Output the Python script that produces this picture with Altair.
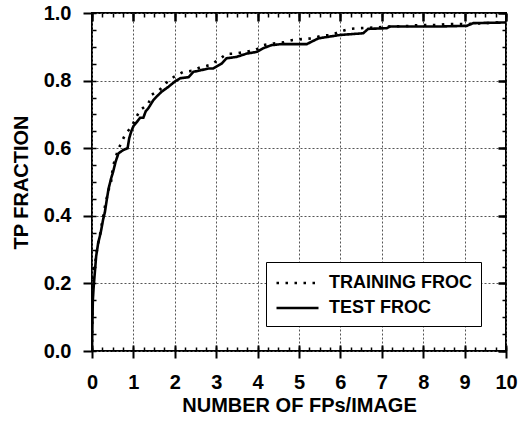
import altair as alt
import pandas as pd

# ---- data ----
train_x = [0, 0.01, 0.03, 0.07, 0.10, 0.13, 0.18, 0.22, 0.26, 0.30, 0.35, 0.40, 0.46, 0.49,
           0.53, 0.60, 0.69, 0.80, 0.96, 1.16, 1.36, 1.43, 1.63, 1.80, 1.99, 2.21, 2.43,
           2.61, 2.85, 3.05, 3.25, 3.48, 3.70, 3.94, 4.15, 4.38, 4.62, 4.85, 5.09, 5.32,
           5.56, 5.79, 5.99, 6.22, 6.45, 6.67, 7.20, 7.64, 7.86, 8.30, 8.57, 9.04, 9.50, 10.0]
train_y = [0, 0.12, 0.235, 0.254, 0.28, 0.31, 0.334, 0.364, 0.39, 0.42, 0.449, 0.476, 0.50, 0.53,
           0.556, 0.584, 0.612, 0.640, 0.665, 0.713, 0.730, 0.757, 0.772, 0.794, 0.812, 0.826, 0.829,
           0.839, 0.846, 0.861, 0.879, 0.880, 0.885, 0.890, 0.905, 0.910, 0.913, 0.920, 0.923, 0.925,
           0.933, 0.935, 0.945, 0.953, 0.955, 0.956, 0.960, 0.962, 0.964, 0.964, 0.967, 0.967, 0.970, 0.973]

test_x = [0, 0.01, 0.02, 0.04, 0.06, 0.10, 0.15, 0.21, 0.27, 0.31, 0.36, 0.40, 0.46, 0.51, 0.57,
          0.64, 0.76, 0.86, 0.90, 0.95, 1.00, 1.10, 1.16, 1.24, 1.30, 1.36, 1.48, 1.58, 1.68, 1.85,
          2.00, 2.13, 2.33, 2.45, 2.61, 2.81, 2.93, 3.13, 3.25, 3.49, 3.74, 3.98, 4.14, 4.34, 4.58,
          5.19, 5.27, 5.47, 5.99, 6.55, 6.67, 7.12, 7.20, 8.40, 9.05, 9.21, 10.0]
test_y = [0, 0.08, 0.15, 0.19, 0.22, 0.28, 0.32, 0.35, 0.39, 0.41, 0.45, 0.48, 0.51, 0.53, 0.56,
          0.585, 0.595, 0.60, 0.63, 0.65, 0.665, 0.68, 0.69, 0.69, 0.71, 0.718, 0.742, 0.755, 0.767, 0.782,
          0.797, 0.807, 0.81, 0.826, 0.83, 0.836, 0.836, 0.85, 0.866, 0.87, 0.88, 0.885, 0.896, 0.905, 0.908,
          0.908, 0.913, 0.925, 0.935, 0.94, 0.953, 0.955, 0.96, 0.96, 0.962, 0.97, 0.972]

series_names = ["TRAINING FROC", "TEST FROC"]
x_major = list(range(0, 11))
x_minor = [i * 0.25 for i in range(41)]
y_major = [0.0, 0.2, 0.4, 0.6, 0.8, 1.0]
y_minor = [round(i * 0.05, 2) for i in range(21)]

rows = []
for i, (a, b) in enumerate(zip(train_x, train_y)):
    rows.append({"series": series_names[0], "x": a, "y": b, "o": i})
for i, (a, b) in enumerate(zip(test_x, test_y)):
    rows.append({"series": series_names[1], "x": a, "y": b, "o": i})
df = pd.DataFrame(rows)

FONT = "Liberation Sans"
xs = alt.Scale(domain=[0, 10], nice=False, zero=False)
ys = alt.Scale(domain=[0, 1], nice=False, zero=False)


def inner_axis(values, orient, size, width):
    return alt.Axis(values=values, orient=orient, offset=-size, tickSize=size, tickWidth=width,
                    tickColor="black", labels=False, domain=False, grid=False, title=None)


x_main = alt.Axis(values=x_major, orient="bottom", title="NUMBER OF FPs/IMAGE",
                  grid=True, gridDash=[2, 2], gridColor="#555555", gridWidth=1,
                  tickSize=7, tickWidth=2, tickColor="black", domain=False,
                  labelFont=FONT, labelFontSize=20, labelFontWeight="bold", labelColor="black",
                  labelPadding=14, labelFlush=False, labelOverlap=False,
                  titleFont=FONT, titleFontSize=20, titleFontWeight="bold", titleColor="black",
                  titlePadding=3)
y_main = alt.Axis(values=y_major, orient="left", format=".1f", title="TP FRACTION",
                  grid=True, gridDash=[2, 2], gridColor="#555555", gridWidth=1,
                  tickSize=9, tickWidth=2, tickColor="black", domain=False,
                  labelFont=FONT, labelFontSize=20, labelFontWeight="bold", labelColor="black",
                  labelPadding=12, labelFlush=False, labelOverlap=False,
                  titleFont=FONT, titleFontSize=20, titleFontWeight="bold", titleColor="black",
                  titlePadding=12)

lines = alt.Chart(df).mark_line(color="black", strokeWidth=2.6, clip=True).encode(
    x=alt.X("x:Q", scale=xs, axis=x_main),
    y=alt.Y("y:Q", scale=ys, axis=y_main),
    order="o:Q",
    strokeDash=alt.StrokeDash(
        "series:N",
        scale=alt.Scale(domain=series_names, range=[[2.5, 6.5], [1, 0]]),
        legend=alt.Legend(
            title=None, orient="none", legendX=174, legendY=249,
            symbolType="M-1,0H3", symbolSize=441, symbolStrokeWidth=2.5,
            symbolStrokeColor="black", labelOffset=30,
            labelFont=FONT, labelFontSize=18, labelFontWeight="bold", labelColor="black",
            padding=9, rowPadding=4, fillColor="white", strokeColor="black",
        ),
    ),
)

base = alt.Chart(df).mark_point(opacity=0)

l2 = base.encode(x=alt.X("x:Q", scale=xs, axis=inner_axis(x_minor, "bottom", 4, 1.5)),
                 y=alt.Y("y:Q", scale=ys, axis=inner_axis(y_minor, "left", 4, 1.5)))
l3 = base.encode(x=alt.X("x:Q", scale=xs, axis=inner_axis(x_major, "bottom", 6, 2)),
                 y=alt.Y("y:Q", scale=ys, axis=inner_axis(y_major, "right", 8, 2.5)))
l4 = base.encode(x=alt.X("x:Q", scale=xs, axis=inner_axis(x_major, "top", 8, 2.5)),
                 y=alt.Y("y:Q", scale=ys, axis=inner_axis(y_minor, "right", 4, 1.5)))
l5 = base.encode(x=alt.X("x:Q", scale=xs, axis=inner_axis(x_minor, "top", 4, 1.5)),
                 y=alt.Y("y:Q", scale=ys, axis=None))

chart = alt.layer(lines, l2, l3, l4, l5).resolve_axis(
    x="independent", y="independent"
).properties(
    width=414, height=338,
    autosize=alt.AutoSizeParams(type="none"),
    padding={"left": 92, "top": 13, "right": 13, "bottom": 70},
    background="white",
).configure_view(
    stroke="black", strokeWidth=2
).configure_legend(
    labelFontWeight="bold", labelFont=FONT, labelFontSize=18
)

chart.save("out.html", embed_options={"renderer": "svg", "actions": False})
